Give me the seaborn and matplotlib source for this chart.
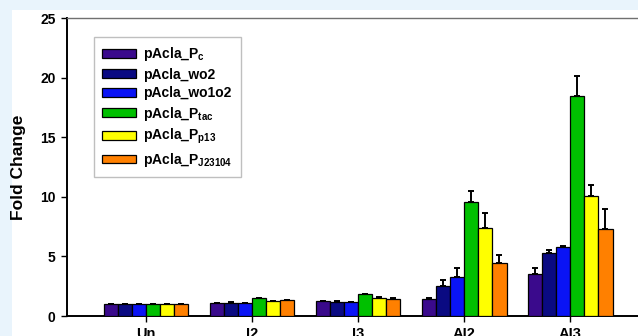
import numpy as np
import pandas as pd
import matplotlib
matplotlib.use("Agg")
import matplotlib.pyplot as plt
from matplotlib.patches import Rectangle
import seaborn as sns

# Fold change values
groups = ["Un", "I2", "I3", "AI2", "AI3"]
constructs = [r"pAcla_P$_{\rm c}$", "pAcla_wo2", "pAcla_wo1o2",
              r"pAcla_P$_{\rm tac}$", r"pAcla_P$_{\rm p13}$", r"pAcla_P$_{\rm J23104}$"]
pc = [1.0, 1.05, 1.24, 1.40, 3.50]
wo2 = [1.0, 1.12, 1.19, 2.52, 5.28]
wo1o2 = [1.0, 1.07, 1.16, 3.30, 5.78]
ptac = [1.0, 1.48, 1.82, 9.57, 18.45]
pp13 = [1.0, 1.22, 1.52, 7.41, 10.05]
pj = [1.0, 1.33, 1.42, 4.45, 7.30]
# upper error bars
pc_err = [0.0, 0.05, 0.05, 0.08, 0.52]
wo2_err = [0.0, 0.05, 0.04, 0.50, 0.28]
wo1o2_err = [0.0, 0.05, 0.05, 0.76, 0.11]
ptac_err = [0.0, 0.06, 0.06, 0.90, 1.65]
pp13_err = [0.0, 0.05, 0.06, 1.23, 0.98]
pj_err = [0.0, 0.05, 0.05, 0.64, 1.70]

colors = ["#3a0a8c", "#0a0a82", "#0a14f5", "#00c000", "#ffff00", "#ff8000"]

series = [pc, wo2, wo1o2, ptac, pp13, pj]
errs = [pc_err, wo2_err, wo1o2_err, ptac_err, pp13_err, pj_err]
rows = []
for name, vals, ee in zip(constructs, series, errs):
    for g, v, e in zip(groups, vals, ee):
        rows.append({"group": g, "construct": name, "fold": v, "err": e})
df = pd.DataFrame(rows)

sns.set_style("white")
plt.rcParams["font.family"] = ["Liberation Sans", "DejaVu Sans"]
plt.rcParams["font.weight"] = "bold"
plt.rcParams["text.color"] = "black"
plt.rcParams["axes.labelcolor"] = "black"
plt.rcParams["mathtext.fontset"] = "custom"
plt.rcParams["mathtext.rm"] = "Liberation Sans:bold"
plt.rcParams["mathtext.it"] = "Liberation Sans:bold"
plt.rcParams["mathtext.bf"] = "Liberation Sans:bold"

fig = plt.figure(figsize=(6.38, 3.36), dpi=100)
fig.patch.set_facecolor("#e9f4fc")
fig.add_artist(Rectangle((12 / 638, 0), 1, 1 - 10 / 336, transform=fig.transFigure,
                         facecolor="white", edgecolor="none", zorder=-5))
ax = fig.add_axes([66.5 / 638, 1 - 316 / 336, 1 - 66.5 / 638, 298 / 336])

sns.barplot(data=df, x="group", y="fold", hue="construct", palette=colors,
            errorbar=None, width=0.8, edgecolor="black", linewidth=0.9,
            saturation=1, ax=ax, zorder=3)

# upper error bars on each bar
for cont, ee in zip(ax.containers, errs):
    xs = [p.get_x() + p.get_width() / 2 for p in cont.patches]
    hs = [p.get_height() for p in cont.patches]
    ax.errorbar(xs, hs, yerr=[np.zeros(len(ee)), ee], fmt="none", ecolor="black",
                elinewidth=1.4, capsize=2.5, capthick=1.4, zorder=2)

ax.set_ylim(0, 25)
ax.set_xlim(-0.75, 4.64)
ax.set_yticks([0, 5, 10, 15, 20, 25])
ax.set_xlabel("")
ax.set_ylabel("Fold Change", fontsize=12.5, fontweight="bold", labelpad=10,
              color="black")
ax.tick_params(axis="both", direction="out", length=4, width=1, pad=4,
               left=True, bottom=True, labelsize=10, colors="black")
ax.tick_params(axis="x", labelsize=10.5, pad=4)
for lab in ax.get_xticklabels() + ax.get_yticklabels():
    lab.set_fontweight("bold")

for s in ["left", "bottom"]:
    ax.spines[s].set_color("black")
    ax.spines[s].set_linewidth(1.4)
ax.spines["top"].set_color("#707070")
ax.spines["top"].set_linewidth(1.0)
ax.spines["right"].set_visible(False)

leg = ax.legend(loc="upper left", bbox_to_anchor=(94 / 638, 1 - 37 / 336),
                bbox_transform=fig.transFigure, borderaxespad=0, frameon=True,
                fancybox=False, edgecolor="#b0b0b0", fontsize=10,
                handlelength=2.4, handleheight=0.6, handletextpad=0.55,
                labelspacing=0.32, borderpad=0.6, title=None)
leg.get_frame().set_linewidth(1.0)
for t in leg.get_texts():
    t.set_fontweight("bold")
    t.set_color("black")

fig.savefig("out.png", dpi=100, facecolor=fig.get_facecolor())
